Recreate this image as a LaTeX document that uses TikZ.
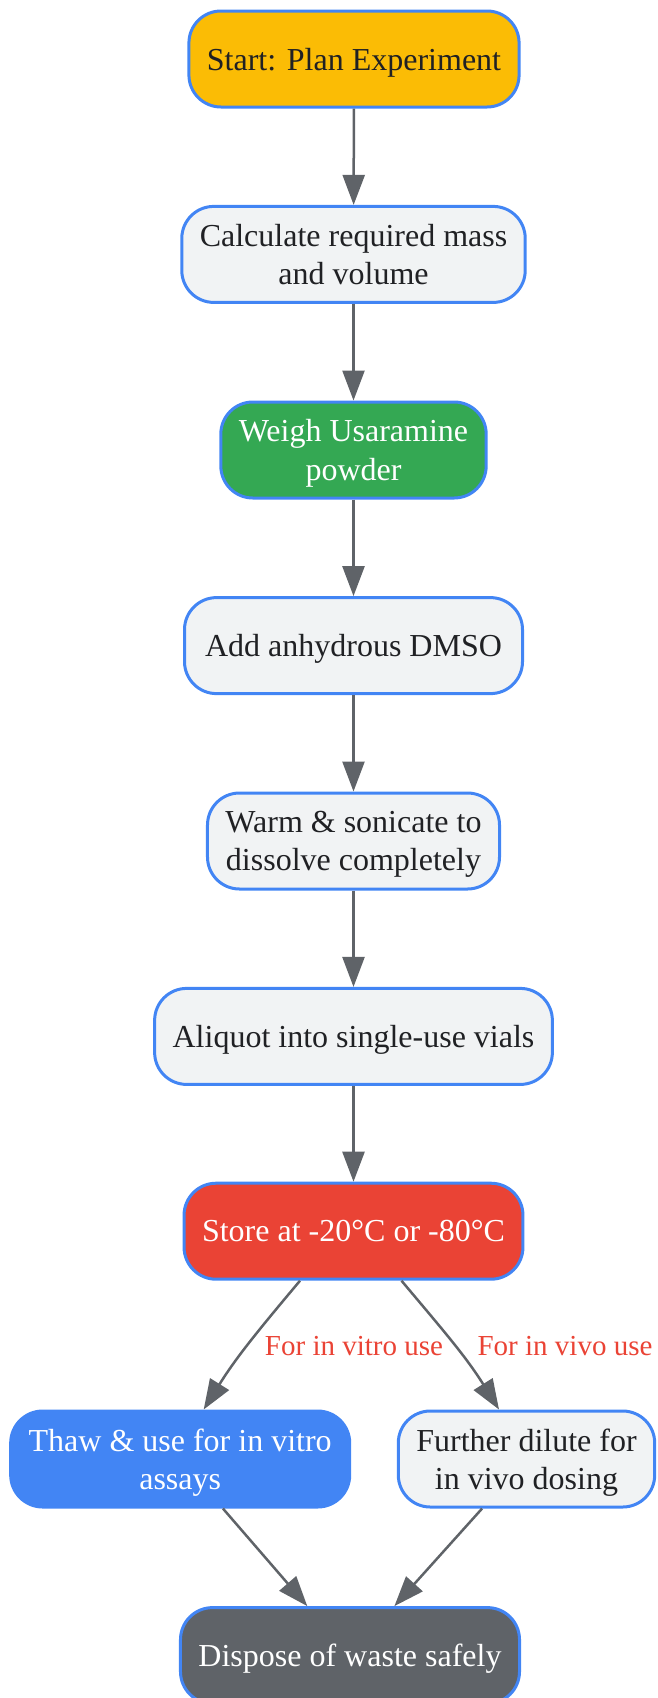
\documentclass[tikz,border=0pt]{standalone}
\usepackage{fontspec}
\setmainfont{Liberation Serif}
\usepackage{tikz}
\usetikzlibrary{arrows.meta}

\definecolor{gyellow}{HTML}{FBBC05}
\definecolor{ggreen}{HTML}{34A853}
\definecolor{gred}{HTML}{EA4335}
\definecolor{gblue}{HTML}{4285F4}
\definecolor{glight}{HTML}{F1F3F4}
\definecolor{gdark}{HTML}{5F6368}
\definecolor{gtext}{HTML}{202124}

\tikzset{
  box/.style={draw=gblue, line width=3pt, fill=glight, text=gtext,
    rounded corners=32pt, minimum height=96pt, inner xsep=18pt, inner ysep=4pt,
    text depth=0pt, align=center, font=\fontsize{32}{38.4}\selectfont},
  flow/.style={draw=gdark, line width=2.5pt, -{Triangle[length=30pt,width=22pt]}},
  lbl/.style={text=gred, font=\fontsize{29}{34.8}\selectfont, inner sep=0pt}
}

\begin{document}
\begin{tikzpicture}[x=1pt,y=1pt]
        \useasboundingbox (0,0) rectangle (657,-1698);

        % Main column
        \node[box, fill=gyellow] (start) at (354,-59) {Start: Plan Experiment};
        \node[box] (calc) at (353.5,-254.4) {Calculate required mass\\and volume};
        \node[box, fill=ggreen, text=white] (weigh) at (353.5,-450) {Weigh Usaramine\\powder};
        \node[box, minimum width=338pt] (add) at (353.5,-645.6) {Add anhydrous DMSO};
        \node[box] (warm) at (353.5,-841) {Warm \& sonicate to\\dissolve completely};
        \node[box] (aliquot) at (353.5,-1036.4) {Aliquot into single-use vials};
        \node[box, fill=gred, text=white, minimum width=338pt] (store) at (353.5,-1231.2) {Store at -20°C or -80°C};

        % Branches
        \node[box, fill=gblue, text=white] (thaw) at (180.2,-1459) {Thaw \& use for in vitro\\assays};
        \node[box] (further) at (526.5,-1459) {Further dilute for\\in vivo dosing};
        \node[box, fill=gdark, text=white, minimum width=338pt] (dispose) at (350,-1655.6) {Dispose of waste safely};

        \draw[flow] (start) -- (calc);
        \draw[flow] (calc) -- (weigh);
        \draw[flow] (weigh) -- (add);
        \draw[flow] (add) -- (warm);
        \draw[flow] (warm) -- (aliquot);
        \draw[flow] (aliquot) -- (store);

        \draw[flow] ([xshift=-53.5pt]store.south) to[out=-130, in=58] ([xshift=23.5pt]thaw.north);
        \draw[flow] ([xshift=48pt]store.south) to[out=-50, in=122] ([xshift=-27.5pt]further.north);
        \node[lbl] (vitrolbl) at (354,-1346.5) {For in vitro use};
        \node[lbl] (vivolbl) at (565,-1346.5) {For in vivo use};

        \draw[flow] (thaw) -- (dispose);
        \draw[flow] (further) -- (dispose);
\end{tikzpicture}
\end{document}
